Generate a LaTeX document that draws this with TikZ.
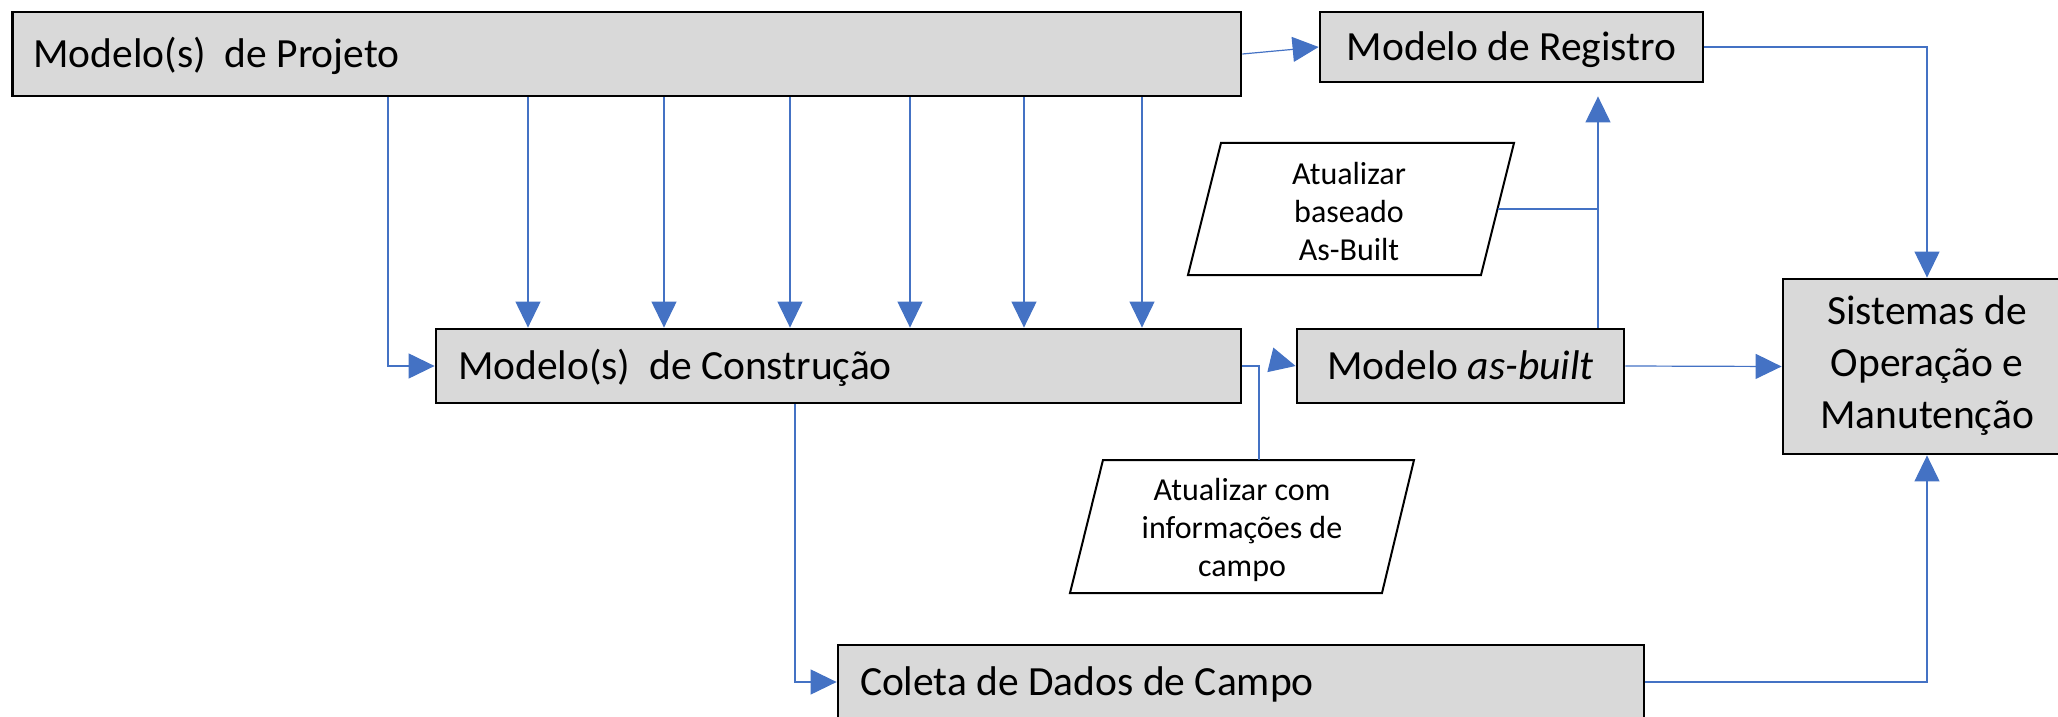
\documentclass[tikz,border=0pt]{standalone}
\usepackage{fontspec}
\setmainfont{Carlito}
\usetikzlibrary{arrows.meta,calc}
\definecolor{lnblue}{RGB}{68,114,196}
\definecolor{boxgray}{RGB}{217,217,217}
\newcommand{\normsp}{\spaceskip=0pt\xspaceskip=0pt\relax}
\begin{document}
\begin{tikzpicture}[x=0.5pt,y=-0.5pt,
  ln/.style={draw=lnblue, line width=0.6pt},
  arr/.style={ln, -{Triangle[length=13pt,width=12.5pt]}},
  box/.style={draw=black, line width=1.4pt, fill=boxgray, inner ysep=0pt,
    font=\fontsize{20.75}{25}\selectfont, text height=17.6pt, text depth=4.2pt},
  lbox/.style={box, align=left},
  cbox/.style={box, align=center, inner xsep=0pt},
  para/.style={draw=black, line width=1pt},
  ptext/.style={align=center, inner sep=0pt, font=\fontsize{16}{19}\selectfont}
]
\useasboundingbox (0,0) rectangle (2058,717);

% boxes
\node[lbox, minimum width=614.25pt, minimum height=42pt, inner xsep=10.5pt, text width=593.25pt] (proj) at (626.75,54) {\normsp Modelo(s)\ \ de Projeto};
\node[cbox, minimum width=191.5pt, minimum height=35pt] (reg) at (1511.5,47) {Modelo de Registro};
\node[lbox, minimum width=402.5pt, minimum height=37pt, inner xsep=11pt, text width=380.5pt] (cons) at (838.5,366) {\normsp Modelo(s)\ \ de Construção};
\node[cbox, minimum width=144pt, minimum height=87.5pt, text height=, text depth=, font=\fontsize{20.75}{26}\selectfont] (sis) at (1927,366.5) {\raisebox{-3pt}{\begin{tabular}{@{}c@{}}Sistemas de\\Operação e\\Manutenção\end{tabular}}};
\node[cbox, minimum width=163.5pt, minimum height=37pt] (asb) at (1460.5,366) {Modelo \textit{as-built}};
\node[lbox, minimum width=403pt, minimum height=37pt, inner xsep=11pt, text width=381pt] (col) at (1241,682) {\normsp Coleta de Dados de Campo};

% parallelograms
\draw[para] (1221,143) -- (1514,143) -- (1481,275) -- (1188,275) -- cycle;
\node[ptext] (p1) at (1349,212) {Atualizar\\baseado\\As-Built};
\coordinate (p1r) at (1498,209);
\coordinate (j1) at (1598,209);

\draw[para] (1103,460) -- (1414,460) -- (1382,593) -- (1070,593) -- cycle;
\node[ptext] (p2) at (1242,530) {Atualizar com\\informações de\\campo};
\coordinate (p2t) at (1259,460);

% connectors
\draw[arr] (proj.east) -- (reg.west);
\draw[arr] (reg.east) -| (sis.north);
\foreach \x in {528,664,790,910,1024,1142}
  \draw[arr] (proj.south -| \x,0) -- (cons.north -| \x,0);
\draw[arr] (proj.south -| 388,0) |- (cons.west);
\draw[arr] (cons.south -| 795,0) |- (col.west);
\draw[ln] (cons.east) -| (p2t);
\coordinate (ah) at (1271,360);
\draw[arr] (ah) -- (asb.west);
\draw[arr, shorten >=6.5pt] (asb.north -| 1598,0) -- (reg.south -| 1598,0);
\draw[ln] (p1r) -- (j1);
\draw[arr] (asb.east) -- (sis.west);
\draw[arr] (col.east) -| (sis.south);
\end{tikzpicture}
\end{document}
